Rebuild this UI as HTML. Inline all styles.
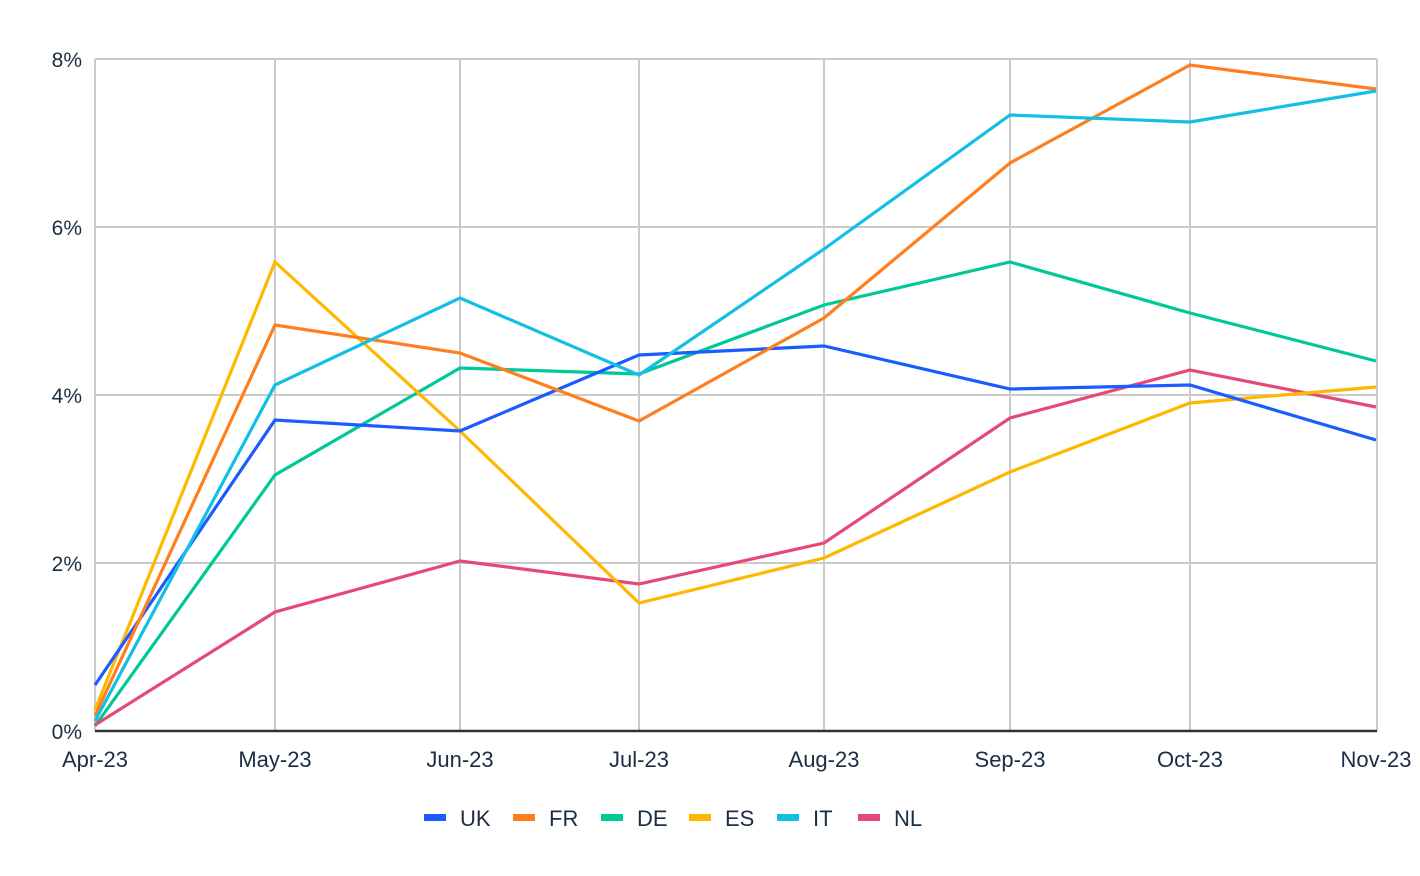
<!DOCTYPE html>
<html><head><meta charset="utf-8"><style>
html,body{margin:0;padding:0;background:#fff;}
svg{display:block;}
text{font-family:"Liberation Sans",Arial,sans-serif;fill:#1b2d45;}
</style></head><body>
<svg width="1420" height="876" viewBox="0 0 1420 876" xmlns="http://www.w3.org/2000/svg">
<g stroke="#cacaca" stroke-width="2" fill="none">
<line x1="95" y1="59" x2="1377" y2="59"/>
<line x1="95" y1="227" x2="1377" y2="227"/>
<line x1="95" y1="395" x2="1377" y2="395"/>
<line x1="95" y1="563" x2="1377" y2="563"/>
<line x1="95" y1="59" x2="95" y2="731"/>
<line x1="275" y1="59" x2="275" y2="731"/>
<line x1="460" y1="59" x2="460" y2="731"/>
<line x1="639" y1="59" x2="639" y2="731"/>
<line x1="824" y1="59" x2="824" y2="731"/>
<line x1="1010" y1="59" x2="1010" y2="731"/>
<line x1="1190" y1="59" x2="1190" y2="731"/>
<line x1="1377" y1="59" x2="1377" y2="731"/>
</g>
<line x1="95" y1="731" x2="1377" y2="731" stroke="#333" stroke-width="2.5"/>
<g font-size="21" text-anchor="end">
<text x="82" y="67">8%</text>
<text x="82" y="235">6%</text>
<text x="82" y="403">4%</text>
<text x="82" y="571">2%</text>
<text x="82" y="739">0%</text>
</g>
<g font-size="22" text-anchor="middle">
<text x="95" y="767">Apr-23</text>
<text x="275" y="767">May-23</text>
<text x="460" y="767">Jun-23</text>
<text x="639" y="767">Jul-23</text>
<text x="824" y="767">Aug-23</text>
<text x="1010" y="767">Sep-23</text>
<text x="1190" y="767">Oct-23</text>
<text x="1376" y="767">Nov-23</text>
</g>
<g fill="none" stroke-width="3.2" stroke-linejoin="miter">
<polyline stroke="#00C896" points="95,726 275,475 460,368 639,374 824,305 1010,262 1190,313 1376,361"/>
<polyline stroke="#E34A77" points="95,725 275,612 460,561 639,584 824,543 1010,418 1190,370 1376,407"/>
<polyline stroke="#FFB800" points="95,710 275,262 460,431 639,603 824,558 1010,472 1190,403 1376,387"/>
<polyline stroke="#1A5CFF" points="95,685 275,420 460,431 639,355 824,346 1010,389 1190,385 1376,440"/>
<polyline stroke="#FF7F1F" points="95,716 275,325 460,353 639,421 824,318 1010,163 1190,65 1376,89"/>
<polyline stroke="#14BFE6" points="95,721 275,385 460,298 639,375 824,249 1010,115 1190,122 1376,91"/>
</g>
<g>
<rect x="424" y="814" width="22" height="7" fill="#1A5CFF"/>
<rect x="513" y="814" width="22" height="7" fill="#FF7F1F"/>
<rect x="601" y="814" width="22" height="7" fill="#00C896"/>
<rect x="689" y="814" width="22" height="7" fill="#FFB800"/>
<rect x="777" y="814" width="22" height="7" fill="#14BFE6"/>
<rect x="858" y="814" width="22" height="7" fill="#E34A77"/>
</g>
<g font-size="22" fill="#243a52">
<text x="460" y="826">UK</text>
<text x="549" y="826">FR</text>
<text x="637" y="826">DE</text>
<text x="725" y="826">ES</text>
<text x="813" y="826">IT</text>
<text x="894" y="826">NL</text>
</g>
</svg>
</body></html>
